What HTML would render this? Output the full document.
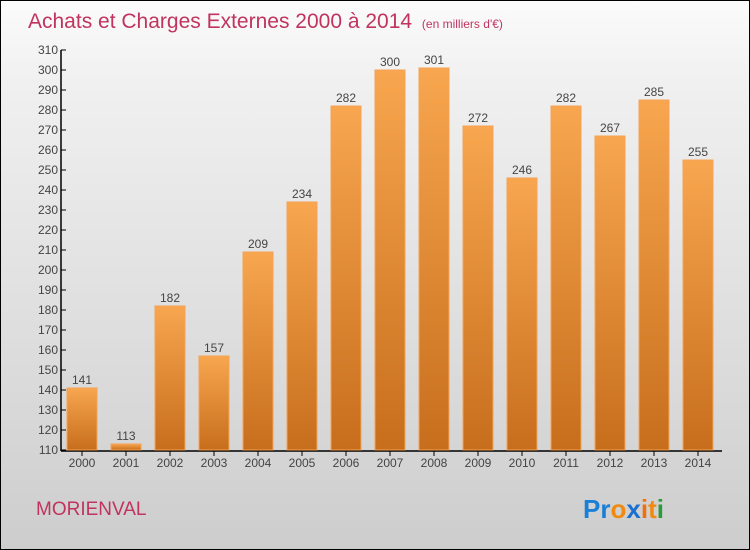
<!DOCTYPE html>
<html><head><meta charset="utf-8"><style>
body{margin:0}
#c{position:relative;width:748px;height:548px;border:1px solid #000;background:linear-gradient(#fbfbfb,#f0f0f0 15%,#d8d8d8 75%,#cdcdcd);font-family:"Liberation Sans",sans-serif;overflow:hidden}
</style></head><body>
<div id="c">
<svg width="748" height="548" id="s">
<defs><linearGradient id="g" x1="0" y1="0" x2="0" y2="1"><stop offset="0" stop-color="#f8a64f"/><stop offset="1" stop-color="#c76e1c"/></linearGradient></defs>
<text x="27" y="27" font-size="21" fill="#c0345f">Achats et Charges Externes 2000 à 2014 <tspan font-size="12" dx="4">(en milliers d'€)</tspan></text>
<text x="35" y="514" font-size="19" fill="#c0345f">MORIENVAL</text>
<text x="582" y="517" font-size="26" font-weight="bold"><tspan fill="#1a7fd6">Pr</tspan><tspan fill="#f08a10">o</tspan><tspan fill="#1a6fd0">x</tspan><tspan fill="#f07010">i</tspan><tspan fill="#f08a10">t</tspan><tspan fill="#2a9a3a">i</tspan></text>
<g id="plot"></g>
</svg></div>
<script>
const years=["2000","2001","2002","2003","2004","2005","2006","2007","2008","2009","2010","2011","2012","2013","2014"];
const values=[141,113,182,157,209,234,282,300,301,272,246,282,267,285,255];
const yTicks=[110,120,130,140,150,160,170,180,190,200,210,220,230,240,250,260,270,280,290,300,310];
const NS="http://www.w3.org/2000/svg",p=document.getElementById('plot');
const y=v=>449-(v-110)*2, x=i=>81+i*44;
function mk(t,a,txt){const e=document.createElementNS(NS,t);for(const k in a)e.setAttribute(k,a[k]);if(txt!==undefined)e.textContent=txt;p.appendChild(e);return e;}
let ax=mk('line',{x1:60,y1:49,x2:60,y2:450,stroke:'#000','stroke-width':1.5});


let bx=mk('line',{x1:60,y1:450,x2:721,y2:450,stroke:'#000','stroke-width':1.5});


yTicks.forEach(v=>{
 const t=mk('line',{x1:60,y1:y(v),x2:65,y2:y(v),stroke:'#000'});
 
 
 const l=mk('text',{x:57,y:y(v)+4,'font-size':12,fill:'#444','text-anchor':'end'},v);
 
 
});
values.forEach((v,i)=>{
 const r=mk('rect',{x:x(i)-15,y:y(v),width:30,height:449-y(v),fill:'url(#g)',stroke:'#f5a355','stroke-width':1});
 
 
 const t=mk('text',{x:x(i),y:y(v)-4,'font-size':12,fill:'#444','text-anchor':'middle'},v);
 
 
 const k=mk('line',{x1:x(i),y1:450,x2:x(i),y2:455,stroke:'#000'});
 
 
 const yl=mk('text',{x:x(i),y:466,'font-size':12,fill:'#444','text-anchor':'middle'},years[i]);
 
 
});
</script>
</body></html>
